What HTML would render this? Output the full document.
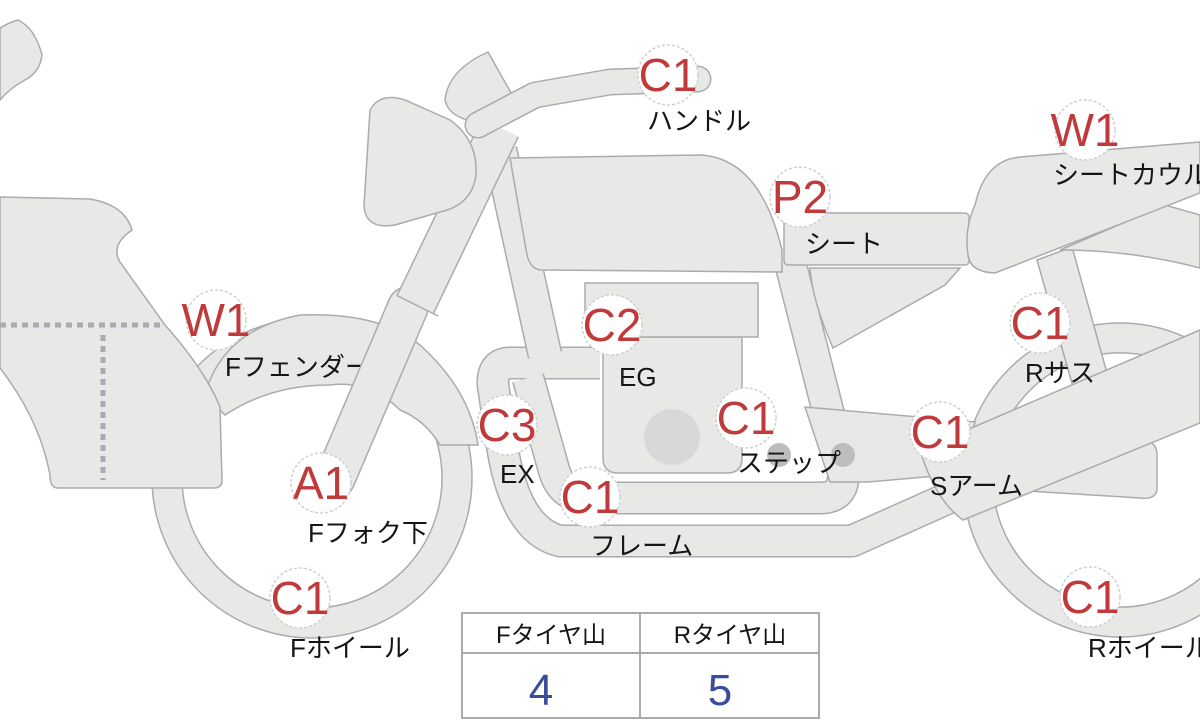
<!DOCTYPE html>
<html><head><meta charset="utf-8"><style>
body{margin:0;background:#fff;}
svg{display:block}
.s{fill:#e8e8e6;stroke:#a9abad;stroke-width:1.5}
.lb{font-family:"Liberation Sans","Noto Sans CJK JP",sans-serif;font-size:26px;fill:#151515}
.cn{font-family:"Liberation Sans Narrow","Liberation Sans",sans-serif;font-size:46px;fill:#c0393b;text-anchor:middle}
.ci{fill:#fff;stroke:#d0d0d0;stroke-width:1.5;stroke-dasharray:3 2}
</style></head><body>
<svg width="1200" height="720" viewBox="0 0 1200 720" xmlns="http://www.w3.org/2000/svg">
<path class="s" d="M0,28 Q10,22 18,20 Q35,28 42,55 Q40,72 25,80 Q10,88 0,100 Z"/>
<path class="s" fill-rule="evenodd" d="M472,478 A160,160 0 1 1 152,478 A160,160 0 1 1 472,478 Z M442,478 A130,130 0 1 0 182,478 A130,130 0 1 0 442,478 Z"/>
<path class="s" fill-rule="evenodd" d="M1277,480 A157,157 0 1 1 963,480 A157,157 0 1 1 1277,480 Z M1247,480 A127,127 0 1 0 993,480 A127,127 0 1 0 1247,480 Z"/>
<path class="s" d="M205,395 Q222,330 300,315 Q380,312 420,345 Q470,390 478,445 L440,445 Q425,420 400,410 Q370,380 330,385 Q270,385 225,415 Z"/>
<path class="s" d="M0,197 L90,199 Q125,205 132,230 Q110,245 120,262 Q140,290 165,325 Q205,370 220,407 L222,480 Q222,488 214,488 L58,488 Q50,488 50,475 Q40,420 0,368 Z"/>
<path d="M0,325 H162 M103,335 V480" stroke="#a9abb3" stroke-width="5" stroke-dasharray="6 5" fill="none"/>
<text class="lb" x="225" y="376">Fフェンダー</text>
<g fill="none" stroke-linejoin="round">
<path d="M600,363 L510,363 Q492,363 493,385 L502,445 Q515,530 560,541 L852,541 L962,492" stroke="#a9abad" stroke-width="33"/>
<path d="M600,363 L510,363 Q492,363 493,385 L502,445 Q515,530 560,541 L852,541 L962,492" stroke="#e8e8e6" stroke-width="30"/>
<path d="M790,262 L843,470 Q846,498 820,498 L590,498 Q562,498 554,470 L528,378" stroke="#a9abad" stroke-width="33"/>
<path d="M790,262 L843,470 Q846,498 820,498 L590,498 Q562,498 554,470 L528,378" stroke="#e8e8e6" stroke-width="30"/>
<path d="M500,150 L545,355" stroke="#a9abad" stroke-width="35"/>
<path d="M500,150 L545,355" stroke="#e8e8e6" stroke-width="32"/>
</g>
<path class="s" d="M805,407 L975,422 L960,474 L868,482 L830,482 Z"/>
<circle cx="779" cy="455" r="12" fill="#bdbdbd"/><circle cx="843" cy="455" r="12" fill="#bdbdbd"/>
<path class="s" d="M603,337 H742 V458 Q742,473 727,473 H618 Q603,473 603,458 Z"/>
<rect class="s" x="585" y="283" width="173" height="54"/>
<circle cx="672" cy="437" r="28" fill="#d8d8da"/>
<path class="s" d="M1037,260 L1072,247 L1107,373 L1073,387 Z"/>
<path class="s" d="M1060,250 L1165,205 L1200,215 L1200,268 Q1140,252 1072,250 Z"/>
<path class="s" d="M1013,470 L1140,440 Q1157,440 1157,455 L1157,490 Q1155,500 1140,498 L1013,490 Z"/>
<path class="s" d="M920,450 L1200,330 L1200,423 L963,520 Q935,500 920,450 Z"/>
<path class="s" d="M810,268 L960,268 L945,285 L833,348 Q812,300 810,268 Z"/>
<rect class="s" x="784" y="213" width="185" height="52" rx="4"/>
<path class="s" d="M975,205 Q985,160 1020,157 L1200,142 L1200,193 L995,273 Q970,272 968,255 Q964,230 975,205 Z"/>
<path class="s" d="M510,158 L700,155 Q760,158 782,250 L782,272 L540,270 Q530,268 527,255 Z"/>
<g fill="none">
<path d="M408,307 L335,478" stroke="#a9abad" stroke-width="42" stroke-linecap="round"/>
<path d="M408,307 L335,478" stroke="#e8e8e6" stroke-width="39" stroke-linecap="round"/>
<path d="M500,128 L415,305" stroke="#a9abad" stroke-width="42"/>
<path d="M500,128 L415,305" stroke="#e8e8e6" stroke-width="39"/>
<path d="M398,296 L438,316" stroke="#a9abad" stroke-width="1.5"/>
</g>
<path class="s" d="M370,110 Q380,92 405,100 L450,120 Q478,140 476,175 Q472,205 440,212 L395,225 Q365,230 364,205 Z"/>
<path class="s" d="M488,52 L515,100 Q518,120 490,123 Q450,122 445,100 Q448,70 488,52 Z"/>
<g fill="none" stroke-linecap="round" stroke-linejoin="round">
<path d="M478,125 L535,95 L610,82 L698,79" stroke="#a9abad" stroke-width="27"/>
<path d="M478,125 L535,95 L610,82 L698,79" stroke="#e8e8e6" stroke-width="24"/>
</g>
<g>
<circle class="ci" cx="668" cy="75" r="30"/><text class="cn" x="668" y="91">C1</text>
<circle class="ci" cx="1085" cy="130" r="30"/><text class="cn" x="1085" y="146">W1</text>
<circle class="ci" cx="800" cy="197" r="30"/><text class="cn" x="800" y="213">P2</text>
<circle class="ci" cx="216" cy="320" r="30"/><text class="cn" x="216" y="336">W1</text>
<circle class="ci" cx="612" cy="325" r="30"/><text class="cn" x="612" y="341">C2</text>
<circle class="ci" cx="746" cy="418" r="30"/><text class="cn" x="746" y="434">C1</text>
<circle class="ci" cx="940" cy="432" r="30"/><text class="cn" x="940" y="448">C1</text>
<circle class="ci" cx="1040" cy="323" r="30"/><text class="cn" x="1040" y="339">C1</text>
<circle class="ci" cx="507" cy="425" r="30"/><text class="cn" x="507" y="441">C3</text>
<circle class="ci" cx="590" cy="497" r="30"/><text class="cn" x="590" y="513">C1</text>
<circle class="ci" cx="321" cy="483" r="30"/><text class="cn" x="321" y="499">A1</text>
<circle class="ci" cx="300" cy="598" r="30"/><text class="cn" x="300" y="614">C1</text>
<circle class="ci" cx="1090" cy="597" r="30"/><text class="cn" x="1090" y="613">C1</text>
</g>
<text class="lb" x="647" y="130">ハンドル</text>
<text class="lb" x="1053" y="184">シートカウル</text>
<text class="lb" x="805" y="253">シート</text>
<text class="lb" x="619" y="386">EG</text>
<text class="lb" x="737" y="472">ステップ</text>
<text class="lb" x="930" y="495">Sアーム</text>
<text class="lb" x="1025" y="382">Rサス</text>
<text class="lb" x="500" y="483">EX</text>
<text class="lb" x="590" y="555">フレーム</text>
<text class="lb" x="308" y="542">Fフォク下</text>
<text class="lb" x="290" y="657">Fホイール</text>
<text class="lb" x="1088" y="657">Rホイール</text>
<rect x="462" y="613" width="357" height="105" fill="#fff" stroke="#a9abad" stroke-width="2"/>
<line x1="462" y1="653" x2="819" y2="653" stroke="#a9abad" stroke-width="2"/>
<line x1="640" y1="613" x2="640" y2="718" stroke="#a9abad" stroke-width="2"/>
<text class="lb" x="551" y="643" text-anchor="middle" style="font-size:24px">Fタイヤ山</text>
<text class="lb" x="730" y="643" text-anchor="middle" style="font-size:24px">Rタイヤ山</text>
<text x="541" y="705" text-anchor="middle" font-family="Liberation Sans,sans-serif" font-size="44" fill="#3a4c9a">4</text>
<text x="720" y="705" text-anchor="middle" font-family="Liberation Sans,sans-serif" font-size="44" fill="#3a4c9a">5</text>
</svg>
</body></html>
